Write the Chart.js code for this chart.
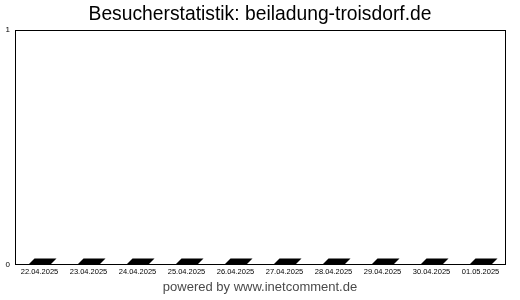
<!DOCTYPE html>
<html>
<head>
<meta charset="utf-8">
<script src="https://cdn.jsdelivr.net/npm/chart.js@4"></script>
<style>
  html, body { margin: 0; padding: 0; background: #fff; }
  #wrap { width: 520px; height: 300px; }
</style>
</head>
<body>
<div id="wrap"><canvas id="myChart"></canvas></div>
<script>
const days = ["22.04.2025", "23.04.2025", "24.04.2025", "25.04.2025", "26.04.2025",
              "27.04.2025", "28.04.2025", "29.04.2025", "30.04.2025", "01.05.2025"];
const visitors = [0, 0, 0, 0, 0, 0, 0, 0, 0, 0];
const yTicks = [0, 1];

// draws the 3d look of the bars (top face + side) and the frame round the plot
const bars3d = {
  id: "bars3d",
  afterDatasetsDraw(chart) {
    const ctx = chart.ctx;
    const d = 6;
    ctx.save();
    ctx.fillStyle = "#000";
    chart.getDatasetMeta(0).data.forEach((bar) => {
      const p = bar.getProps(["x", "y", "base", "width"], true);
      const l = p.x - p.width / 2, r = p.x + p.width / 2;
      ctx.beginPath();
      ctx.moveTo(l, p.base);
      ctx.lineTo(r, p.base);
      ctx.lineTo(r + d, p.base - d);
      ctx.lineTo(r + d, p.y - d);
      ctx.lineTo(l + d, p.y - d);
      ctx.lineTo(l, p.y);
      ctx.closePath();
      ctx.fill();
    });
    const a = chart.chartArea;
    ctx.strokeStyle = "#000";
    ctx.lineWidth = 1;
    ctx.strokeRect(Math.round(a.left) + 0.5, Math.round(a.top) + 0.5,
                   Math.round(a.right - a.left), Math.round(a.bottom - a.top));
    ctx.restore();
  }
};

new Chart(document.getElementById("myChart"), {
  type: "bar",
  data: {
    labels: days,
    datasets: [{
      data: visitors,
      backgroundColor: "#000",
      borderWidth: 0,
      barPercentage: 0.45,
      categoryPercentage: 1
    }]
  },
  options: {
    responsive: true,
    maintainAspectRatio: false,
    animation: false,
    layout: { padding: { left: 0, right: 0, top: 0, bottom: 2 } },
    plugins: {
      legend: { display: false },
      tooltip: { enabled: false },
      title: {
        display: true,
        text: "Besucherstatistik: beiladung-troisdorf.de",
        color: "#000",
        font: { family: "Liberation Sans, Arial, sans-serif", size: 19.3, weight: "normal" },
        padding: { top: 3, bottom: 4 }
      },
      subtitle: {
        display: true,
        position: "bottom",
        text: "powered by www.inetcomment.de",
        color: "#4a4a4a",
        font: { family: "Liberation Sans, Arial, sans-serif", size: 13, weight: "normal" },
        padding: { top: 1, bottom: 3 }
      }
    },
    scales: {
      x: {
        grid: { display: false, drawTicks: false },
        border: { display: false },
        afterFit: (s) => { s.height = 14; },
        ticks: {
          color: "#000",
          font: { family: "Liberation Sans, Arial, sans-serif", size: 7.5 },
          maxRotation: 0,
          autoSkip: false,
          padding: 3
        }
      },
      y: {
        min: yTicks[0],
        max: yTicks[yTicks.length - 1],
        grid: { display: false, drawTicks: false },
        border: { display: false },
        afterFit: (s) => { s.width = 15; },
        afterBuildTicks: (s) => { s.ticks = yTicks.map((v) => ({ value: v })); },
        ticks: {
          color: "#000",
          font: { family: "Liberation Sans, Arial, sans-serif", size: 8 },
          padding: 5
        }
      },
      // empty margin on the right so the title stays centred on the page
      yRight: {
        type: "linear",
        position: "right",
        grid: { display: false, drawTicks: false },
        border: { display: false },
        ticks: { display: false },
        afterFit: (s) => { s.width = 15; }
      }
    }
  },
  plugins: [bars3d]
});
</script>
</body>
</html>
